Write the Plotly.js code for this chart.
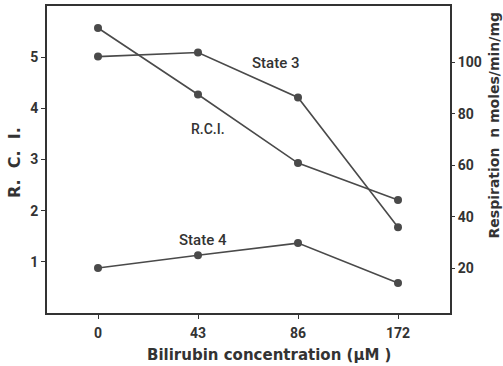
<!DOCTYPE html>
<html><head><meta charset="utf-8">
<script src="https://cdn.plot.ly/plotly-3.0.1.min.js"></script>
<style>html,body{margin:0;padding:0;background:#fff}</style>
</head><body>
<div id="chart" style="width:503px;height:366px"></div>
<script>
const concentrations = ['0', '43', '86', '172'];
const rciValues = [5.57, 4.27, 2.93, 2.21];
const state3Values = [102.3, 103.9, 86.4, 35.9];
const state4Values = [20.0, 25.0, 29.7, 14.2];
const rciTicks = [1, 2, 3, 4, 5];
const respTicks = [20, 40, 60, 80, 100];

const ink = '#333333';
const fontFam = 'Roboto, DejaVu Sans, sans-serif';
const titleFam = 'DejaVu Sans, sans-serif';
const lineStyle = {color: '#4a4a4a', width: 1.6};
const markerStyle = {color: '#4a4a4a', size: 8};
const tf = {family: fontFam, size: 14, color: ink, weight: 700};

const traces = [
  {x: concentrations, y: rciValues, type: 'scatter', mode: 'lines+markers', name: 'R.C.I.',
   line: lineStyle, marker: markerStyle, yaxis: 'y'},
  {x: concentrations, y: state3Values, type: 'scatter', mode: 'lines+markers', name: 'State 3',
   line: lineStyle, marker: markerStyle, yaxis: 'y2'},
  {x: concentrations, y: state4Values, type: 'scatter', mode: 'lines+markers', name: 'State 4',
   line: lineStyle, marker: markerStyle, yaxis: 'y2'}
];

const layout = {
  width: 503, height: 366,
  margin: {l: 47, r: 53, t: 6, b: 53},
  paper_bgcolor: '#fff', plot_bgcolor: '#fff',
  showlegend: false,
  font: {family: fontFam, color: ink, size: 13},
  xaxis: {type: 'category', range: [-0.51, 3.52], showgrid: false, zeroline: false,
    showline: true, mirror: true, linecolor: ink, linewidth: 2,
    ticks: 'outside', ticklen: 4, tickcolor: ink, ticklabelstandoff: 2,
    tickfont: tf},
  yaxis: {range: [0, 6], tickvals: rciTicks, showgrid: false, zeroline: false,
    showline: true, mirror: true, linecolor: ink, linewidth: 2,
    ticks: 'outside', ticklen: 4, tickcolor: ink,
    tickfont: tf},
  yaxis2: {overlaying: 'y', side: 'right', range: [2.5, 122], tickvals: respTicks,
    showgrid: false, zeroline: false, showline: false,
    ticks: 'outside', ticklen: 4, tickcolor: ink,
    tickfont: tf},
  annotations: [
    {text: 'State 3', x: 2, y: 100, xref: 'x', yref: 'y2', xshift: -23, showarrow: false, font: {size: 15, weight: 500}},
    {text: 'R.C.I.', x: 1, y: 3.6, xref: 'x', yref: 'y', xshift: 10, showarrow: false, font: {size: 14, weight: 500}},
    {text: 'State 4', x: 1, y: 31, xref: 'x', yref: 'y2', xshift: 5, showarrow: false, font: {size: 15, weight: 500}},
    {text: 'R.  C.  I.', xref: 'paper', yref: 'paper', x: -0.079, y: 0.489, xanchor: 'center', yanchor: 'middle', textangle: -90, showarrow: false, font: {family: titleFam, size: 16, weight: 700}},
    {text: 'Respiration  n moles/min/mg', xref: 'paper', yref: 'paper', x: 1.11, y: 0.612, xanchor: 'center', yanchor: 'middle', textangle: -90, showarrow: false, font: {family: titleFam, size: 14, weight: 700}},
    {text: 'Bilirubin concentration (\u03bcM )', xref: 'paper', yref: 'paper', x: 0.551, y: -0.137, xanchor: 'center', yanchor: 'middle', showarrow: false, font: {family: titleFam, size: 15, weight: 700}}
  ]
};

Plotly.newPlot('chart', traces, layout, {staticPlot: true, displayModeBar: false});
</script>
</body></html>
